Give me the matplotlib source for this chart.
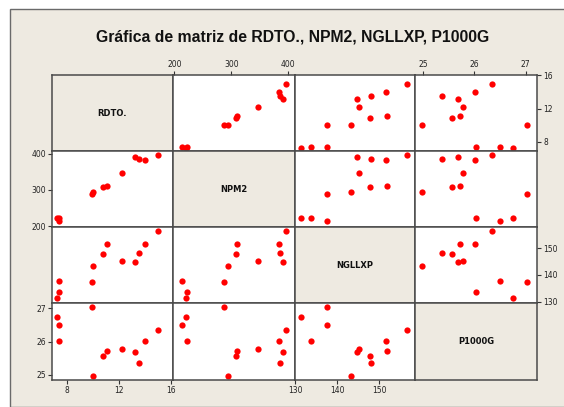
import numpy as np
import matplotlib
matplotlib.use("Agg")
from matplotlib import pyplot as plt
from matplotlib.patches import Rectangle

# data (12 plots)
rdto = [7.4, 7.3, 7.4, 9.96, 10.04, 10.8, 11.1, 12.23, 13.2, 13.5, 13.98, 14.96]
npm2 = [214, 221, 222, 288, 295, 308, 310, 347, 390, 386, 384, 396]
ngllxp = [137.6, 131.5, 133.7, 137.5, 143.4, 147.8, 151.8, 145.1, 144.7, 148.1, 151.7, 156.6]
p1000g = [26.5, 26.75, 26.03, 27.03, 24.98, 25.57, 25.72, 25.78, 25.68, 25.36, 26.01, 26.34]

names = ["RDTO.", "NPM2", "NGLLXP", "P1000G"]
series = [rdto, npm2, ngllxp, p1000g]
ticks = [[8, 12, 16], [200, 300, 400], [130, 140, 150], [25, 26, 27]]
xlims = [(6.88, 16.13), (197.7, 411.7), (130.0, 158.5), (24.84, 27.22)]
ylims = [(6.9, 16.02), (197.5, 407.5), (129.5, 158.0), (24.85, 27.16)]

W, H = 564, 407
BEIGE = "#eeeae1"
EDGE = "#4a4a4a"

fig = plt.figure(figsize=(W / 100, H / 100), dpi=100)
fig.patch.set_facecolor("white")

# outer frame like the minitab window
frame = Rectangle((10 / W, 0), 1, 1 - 9 / H, transform=fig.transFigure,
                  facecolor=BEIGE, edgecolor="#6a6a6a", linewidth=1.0, zorder=-10)
fig.patches.append(frame)

fig.text(293 / W, 1 - 37 / H, "Gráfica de matriz de RDTO., NPM2, NGLLXP, P1000G",
         ha="center", va="center", fontsize=11.3, fontweight="bold",
         family="Liberation Sans", color="#111111")

colx = [52, 173, 295, 415, 537]
rowy = [75, 151, 227, 303, 380]

for r in range(4):
    for c in range(4):
        x0, x1 = colx[c], colx[c + 1]
        y0, y1 = rowy[r], rowy[r + 1]
        ax = fig.add_axes([x0 / W, 1 - y1 / H, (x1 - x0) / W, (y1 - y0) / H])
        for s in ax.spines.values():
            s.set_color(EDGE)
            s.set_linewidth(1.1)
        ax.set_xlim(xlims[c])
        ax.set_ylim(ylims[r])
        ax.tick_params(length=3, width=0.8, color="#333333", labelsize=5.5,
                       labelcolor="#222222", pad=1.5, direction="out")
        if r == c:
            ax.set_facecolor(BEIGE)
            ax.text(0.5, 0.5, names[r], transform=ax.transAxes, ha="center",
                    va="center", fontsize=6, fontweight="bold", color="#111111")
        else:
            ax.set_facecolor("white")
            ax.plot(series[c], series[r], "o", color="red", markersize=4.5,
                    markeredgewidth=0, clip_on=False)

        # ticks only on the outer edges, alternating like minitab
        ax.set_xticks(ticks[c])
        ax.set_yticks(ticks[r])
        show_top = (r == 0 and c % 2 == 1)
        show_bottom = (r == 3 and c % 2 == 0)
        show_left = (c == 0 and r % 2 == 1)
        show_right = (c == 3 and r % 2 == 0)
        ax.tick_params(axis="x", top=show_top, labeltop=show_top,
                       bottom=show_bottom, labelbottom=show_bottom)
        ax.tick_params(axis="y", left=show_left, labelleft=show_left,
                       right=show_right, labelright=show_right)

plt.savefig("out.png", dpi=100, facecolor=fig.get_facecolor())
